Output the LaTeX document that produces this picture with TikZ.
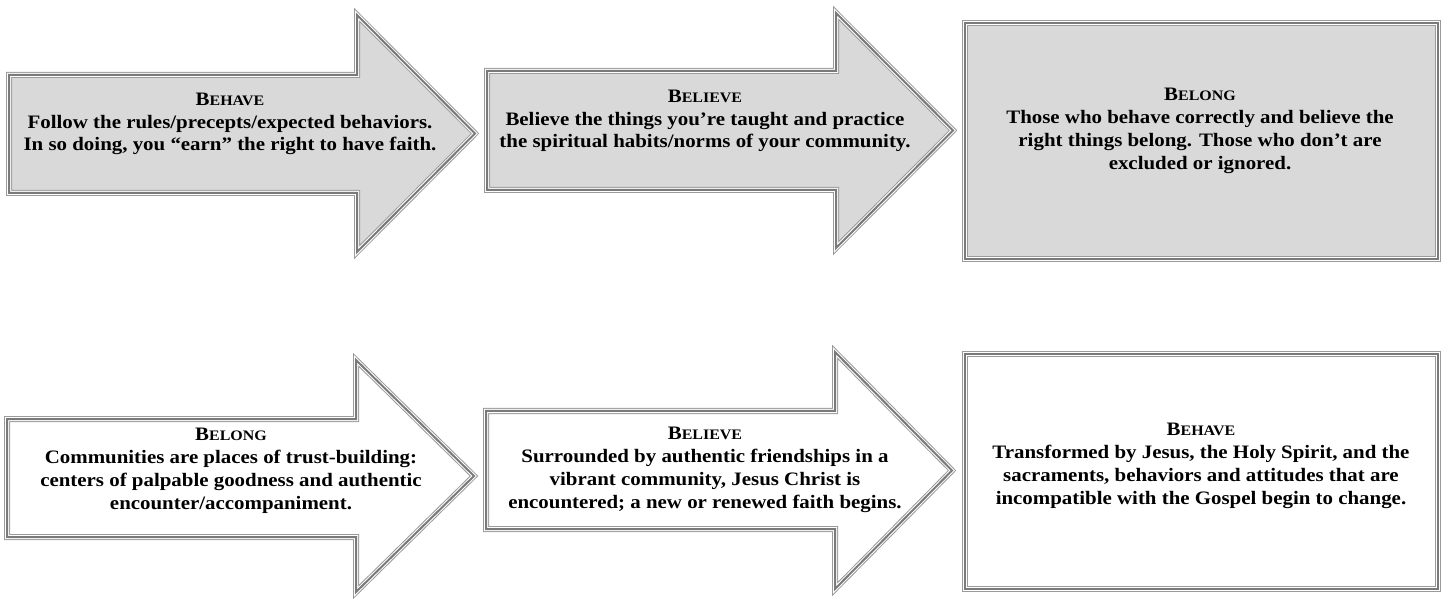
\documentclass[tikz,border=0pt]{standalone}
\usepackage{fontspec}
\setmainfont{Liberation Serif}[FakeStretch=1.1]
\definecolor{fillgray}{HTML}{D9D9D9}
\definecolor{lineA}{HTML}{9A9A9A}
\definecolor{lineB}{HTML}{7A7A7A}
\newcommand{\fsc}[2]{#1{\fontsize{14.5}{16}\selectfont #2}}
\tikzset{
  triple/.style={line join=miter, miter limit=10, fill=#1,
    postaction={draw=lineA, line width=6pt},
    postaction={draw=white, line width=4pt},
    postaction={draw=lineB, line width=2pt}},
  lbl/.style={align=center, inner sep=0pt, text=black,
    font=\fontsize{19}{22.8}\selectfont\bfseries}
}
\begin{document}
\begin{tikzpicture}[x=1pt, y=-1pt]
\useasboundingbox (0,0) rectangle (1443,601);
% top row
\path[triple=fillgray] (9,75) -- (357,75) -- (357,15) -- (475,133.5) -- (357,252) -- (357,193) -- (9,193) -- cycle;
\path[triple=fillgray] (487,71) -- (836,71) -- (836,13) -- (953,130.5) -- (836,248) -- (836,190) -- (487,190) -- cycle;
\path[triple=fillgray] (965,23) rectangle (1438,259);
% bottom row
\path[triple=white] (7,419) -- (356,419) -- (356,360) -- (474,476) -- (356,592) -- (356,537) -- (7,537) -- cycle;
\path[triple=white] (486,411) -- (835,411) -- (835,352) -- (952,470.5) -- (835,589) -- (835,529) -- (486,529) -- cycle;
\path[triple=white] (965,354) rectangle (1438,589);
% texts
\node[lbl] (t1) at (230,124) {\fsc{B}{EHAVE}\\Follow the rules/precepts/expected behaviors.\\In so doing, you “earn” the right to have faith.};
\node[lbl] (t2) at (705,121) {\fsc{B}{ELIEVE}\\Believe the things you’re taught and practice\\the spiritual habits/norms of your community.};
\node[lbl] (t3) at (1200,131) {\fsc{B}{ELONG}\\Those who behave correctly and believe the\\right things belong. Those who don’t are\\excluded or ignored.};
\node[lbl] (t4) at (231,471) {\fsc{B}{ELONG}\\Communities are places of trust-building:\\centers of palpable goodness and authentic\\encounter/accompaniment.};
\node[lbl] (t5) at (705,470) {\fsc{B}{ELIEVE}\\Surrounded by authentic friendships in a\\vibrant community, Jesus Christ is\\encountered; a new or renewed faith begins.};
\node[lbl] (t6) at (1201,466) {\fsc{B}{EHAVE}\\Transformed by Jesus, the Holy Spirit, and the\\sacraments, behaviors and attitudes that are\\incompatible with the Gospel begin to change.};
\end{tikzpicture}
\end{document}
